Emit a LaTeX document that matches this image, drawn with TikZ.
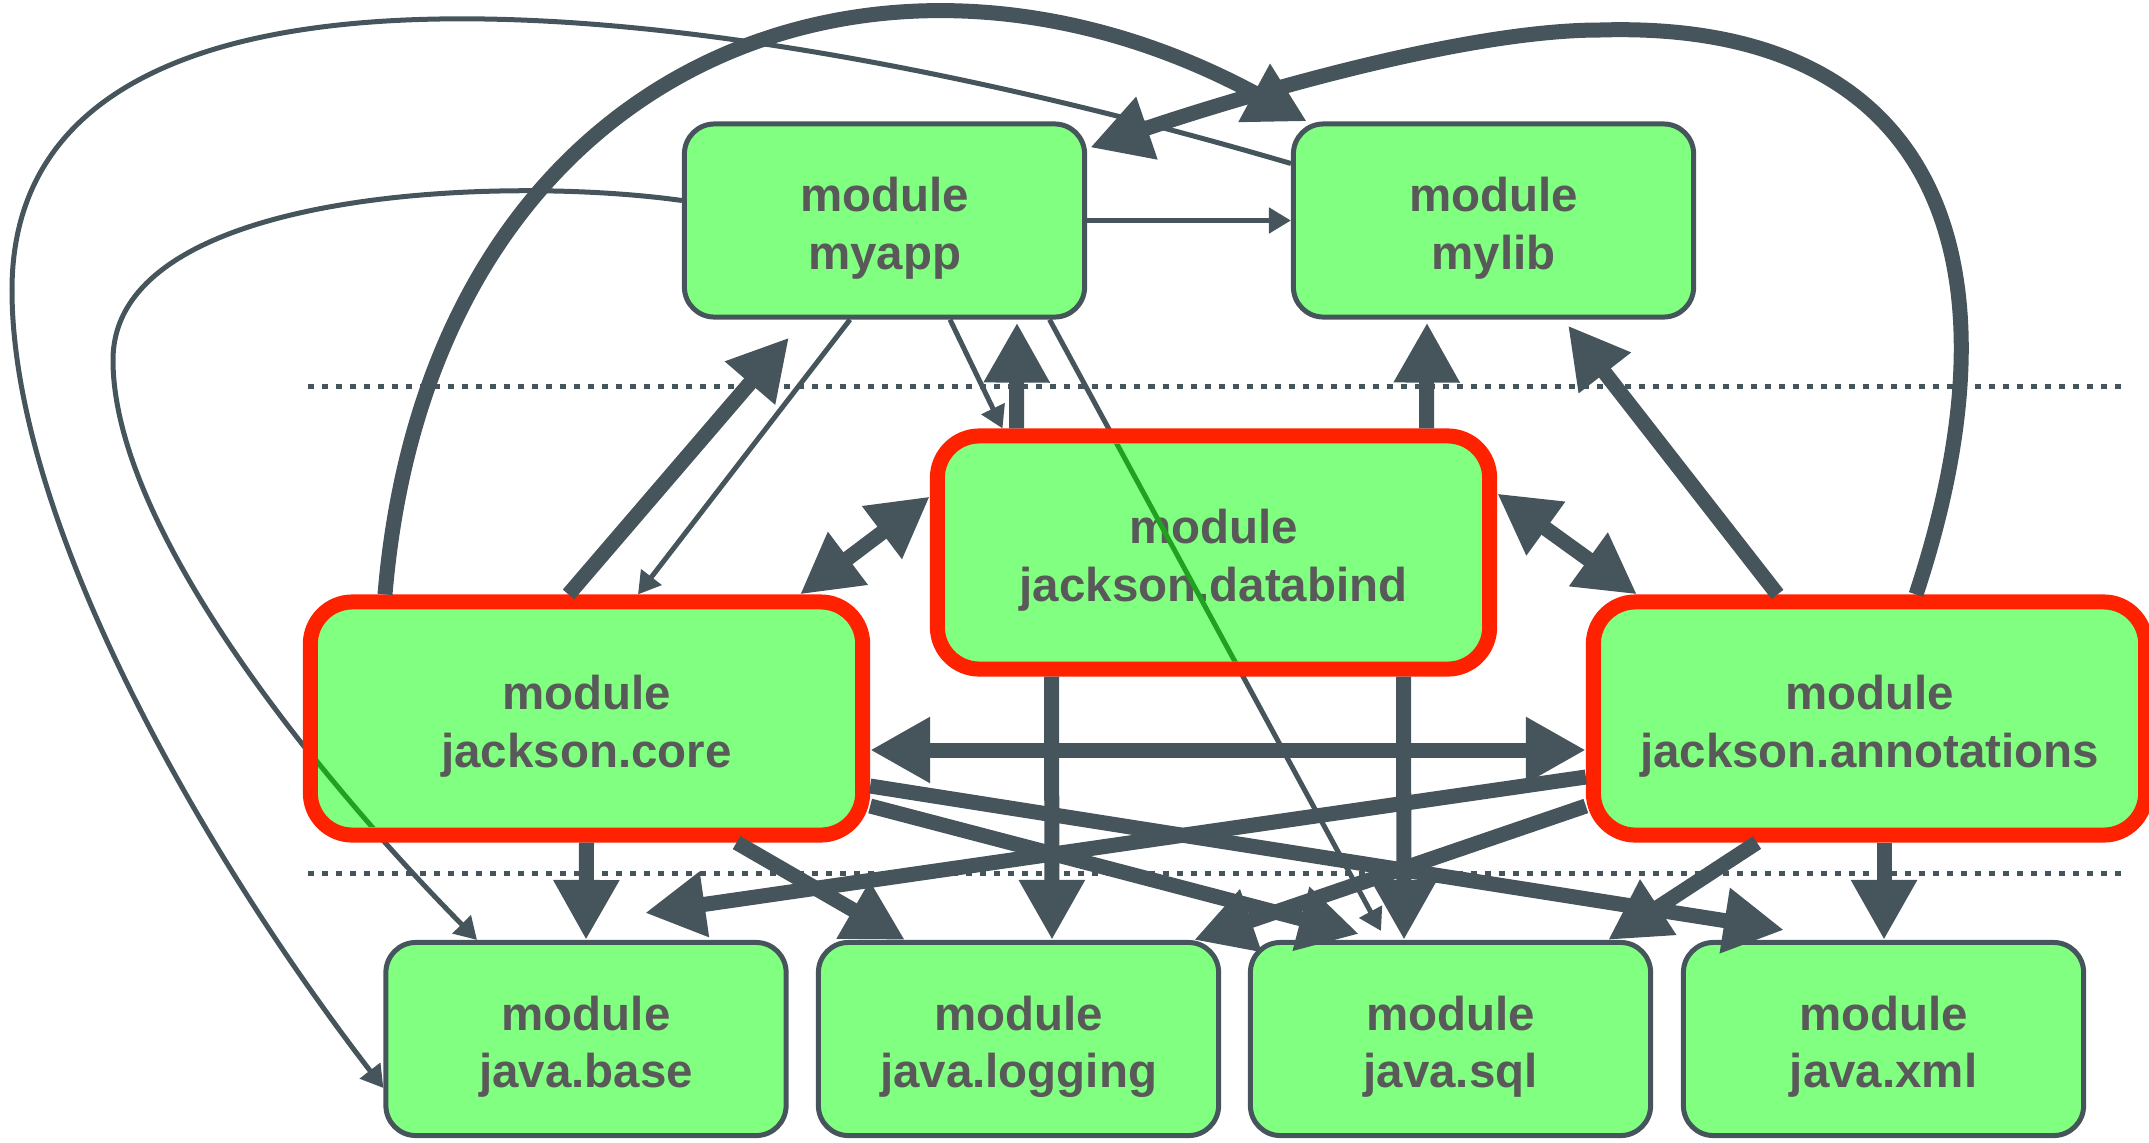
\documentclass[tikz,border=0pt]{standalone}
\usepackage{fontspec}
\newfontfamily\labfont{Liberation Sans}
\usetikzlibrary{arrows.meta,calc}
\pgfdeclarelayer{bg}
\pgfsetlayers{bg,main}
\definecolor{edgec}{HTML}{46555C}
\definecolor{nodefill}{HTML}{80FF80}
\definecolor{jred}{HTML}{FF2200}
\definecolor{txt}{HTML}{595959}
\definecolor{overgreen}{HTML}{22A022}
\tikzset{
  mod/.style={draw=edgec, line width=0.05cm, fill=nodefill, rounded corners=0.3cm,
    minimum width=4cm, minimum height=1.93cm, inner sep=0pt, align=center, text=txt,
    font=\labfont\bfseries\fontsize{13.5pt}{16.4pt}\selectfont},
  jmod/.style={mod, draw=jred, line width=0.15cm, rounded corners=0.42cm,
    minimum width=5.52cm, minimum height=2.33cm},
  thinarr/.style={draw=edgec, line width=0.05cm, -{Triangle[length=0.22cm,width=0.25cm]}},
  thickarr/.style={draw=edgec, line width=0.15cm, -{Triangle[length=0.6cm,width=0.62cm]}},
  bothar/.style={draw=edgec, line width=0.15cm, {Triangle[length=0.6cm,width=0.62cm]}-{Triangle[length=0.6cm,width=0.62cm]}},
  dotline/.style={draw=edgec, line width=0.05cm, dash pattern=on 0.06cm off 0.08cm},
  greenline/.style={draw=overgreen, line width=0.05cm}
}
\newcommand{\lift}{\rule{0pt}{0.5cm}}
\begin{document}
\begin{tikzpicture}[x=0.01cm,y=-0.01cm]
\useasboundingbox (0,0) rectangle (2149,1142);
% nodes
\node[mod] (myapp) at (884.5,220.5) {\lift module\\myapp};
\node[mod] (mylib) at (1493.5,220.5) {\lift module\\mylib};
\node[jmod] (databind) at (1213.5,552.5) {\lift module\\jackson.databind};
\node[jmod] (core) at (586.5,718.5) {\lift module\\jackson.core};
\node[jmod] (annotations) at (1869.5,718.5) {\lift module\\jackson.annotations};
\node[mod] (base) at (586,1039) {\lift module\\java.base};
\node[mod] (logging) at (1018.5,1039) {\lift module\\java.logging};
\node[mod] (sql) at (1450.5,1039) {\lift module\\java.sql};
\node[mod] (xml) at (1883.5,1039) {\lift module\\java.xml};
% background: dotted lines and lines passing under nodes
\begin{pgfonlayer}{bg}
\draw[dotline] (308,386) -- (2124,386);
\draw[dotline] (308,873) -- (2124,873);
\draw[thinarr] ($(myapp.south)+(165,0)$) -- ($(sql.north)+(-69.5,-9)$);
\draw[thinarr] ($(myapp.west)+(0,-20)$) .. controls (500,175) and (113,190) .. (113,360) .. controls (113,520) and (300,760) .. ($(base.north)+(-109,0)$);
\end{pgfonlayer}
% lines seen through the node fill
\begin{scope}
\clip[rounded corners=0.345cm] ($(databind.center)+(-268.5,-109)$) rectangle ($(databind.center)+(268.5,109)$);
\draw[greenline] ($(myapp.south)+(165,0)$) -- ($(sql.north)+(-69.5,-9)$);
\end{scope}
\begin{scope}
\clip[rounded corners=0.345cm] ($(core.center)+(-268.5,-108.5)$) rectangle ($(core.center)+(268.5,108.5)$);
\draw[greenline] ($(myapp.west)+(0,-20)$) .. controls (500,175) and (113,190) .. (113,360) .. controls (113,520) and (300,760) .. ($(base.north)+(-109,0)$);
\end{scope}
% connectors
\draw[thinarr] (myapp.east) -- (mylib.west);
\draw[thinarr] ($(mylib.west)+(0,-57)$) .. controls (700,-10) and (12,-90) .. (12,290) .. controls (12,520) and (200,850) .. ($(base.west)+(0,49)$);
\draw[thickarr] ($(core.north)+(-201.5,0)$) .. controls (430,60) and (880,-110) .. ($(mylib.north west)+(16,0)$);
\draw[thickarr] ($(annotations.north)+(46.5,0)$) .. controls (2030,250) and (1930,20) .. (1600,30) .. controls (1450,30) and (1200,110) .. ($(myapp.east)+(3,-73)$);
\draw[thickarr] ($(core.north)+(-18,0)$) -- ($(myapp.south)+(-95.5,18)$);
\draw[thinarr] ($(myapp.south)+(-34.5,0)$) -- ($(core.north)+(51.5,0)$);
\draw[thinarr] ($(myapp.south)+(65.5,0)$) -- ($(databind.north)+(-211,0)$);
\draw[thickarr] ($(databind.north)+(-197,0)$) -- ($(myapp.south)+(132.5,3)$);
\draw[bothar] ($(core.north)+(213.5,0)$) -- ($(databind.west)+(0,-56)$);
\draw[bothar] ($(databind.east)+(0,-59)$) -- ($(annotations.north)+(-232.5,0)$);
\draw[thickarr] ($(annotations.north)+(-92,0)$) -- ($(mylib.south)+(74.5,6)$);
\draw[thickarr] ($(databind.north)+(213,0)$) -- ($(mylib.south)+(-66.5,3)$);
\draw[bothar] ($(core.east)+(0,31.5)$) -- ($(annotations.west)+(0,31.5)$);
\draw[thickarr] (core.south) -- (base.north);
\draw[thickarr] ($(core.south)+(150,0)$) -- ($(logging.north)+(-113.5,0)$);
\draw[thickarr] ($(core.east)+(0,87.5)$) -- ($(sql.north)+(-91.5,-6)$);
\draw[thickarr] ($(core.east)+(0,67.5)$) -- ($(xml.north)+(-99.5,-10)$);
\draw[thickarr] ($(annotations.west)+(0,58.5)$) -- ($(base.north)+(59,-27)$);
\draw[thickarr] ($(annotations.west)+(0,87.5)$) -- ($(logging.north)+(175.5,0)$);
\draw[thickarr] ($(annotations.south)+(-112.5,0)$) -- ($(sql.north)+(157.5,0)$);
\draw[thickarr] ($(annotations.south)+(14.5,0)$) -- ($(xml.north)+(0.5,0)$);
\draw[thickarr] ($(databind.south)+(-162,0)$) -- ($(logging.north)+(33.5,0)$);
\draw[thickarr] ($(databind.south)+(190,0)$) -- ($(sql.north)+(-46.5,0)$);
\end{tikzpicture}
\end{document}
